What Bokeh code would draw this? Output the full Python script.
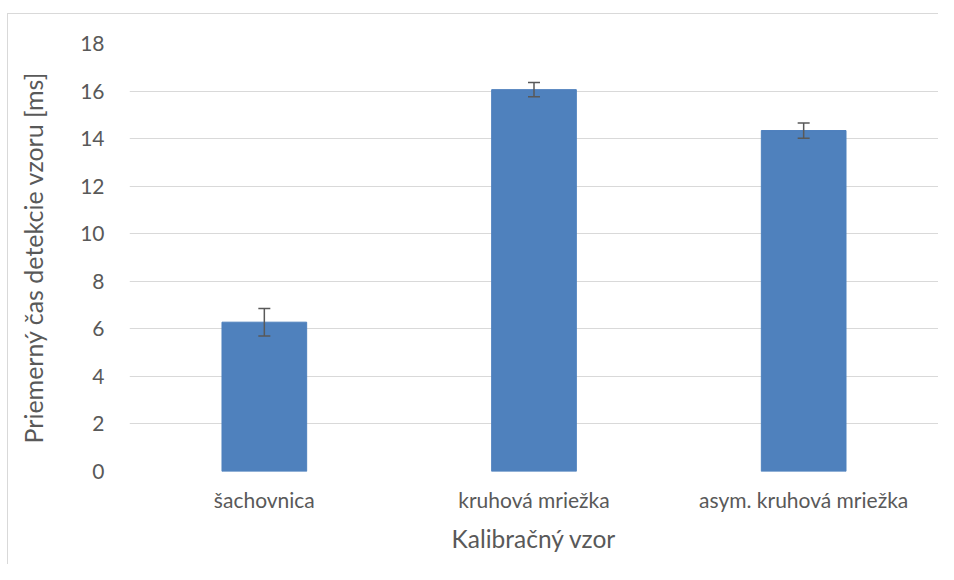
from bokeh.plotting import figure
from bokeh.models import ColumnDataSource, Whisker, TeeHead, FactorRange, Range1d, FixedTicker
from bokeh.embed import file_html
from bokeh.resources import INLINE

categories = ["šachovnica", "kruhová mriežka", "asym. kruhová mriežka"]
means = [6.28, 16.06, 14.34]
errors = [0.58, 0.30, 0.32]
y_ticks = [0, 2, 4, 6, 8, 10, 12, 14, 16, 18]

upper = [m + e for m, e in zip(means, errors)]
lower = [m - e for m, e in zip(means, errors)]
src = ColumnDataSource(dict(cat=categories, mean=means, upper=upper, lower=lower))

FONT = "Lato"
TXT = "#595959"

p = figure(x_range=FactorRange(*categories, range_padding=0), y_range=Range1d(0, 18),
           width=931, height=551, output_backend="svg", toolbar_location=None,
           min_border_left=121, min_border_right=1, min_border_top=29, min_border_bottom=94)
p.margin = (13, 0, 0, 7)
p.styles = {"border-left": "1px solid #d9d9d9", "border-top": "1px solid #d9d9d9"}

p.vbar(x="cat", top="mean", width=0.314, source=src, color="#4f81bd")

w = Whisker(base="cat", upper="upper", lower="lower", source=src,
            line_color="#595959", line_width=1.5, level="overlay",
            upper_head=TeeHead(size=12, line_color="#595959", line_width=1.5),
            lower_head=TeeHead(size=12, line_color="#595959", line_width=1.5))
p.add_layout(w)

p.outline_line_color = None
p.xgrid.grid_line_color = None
p.ygrid.grid_line_color = "#d9d9d9"
p.ygrid.grid_line_width = 1
p.yaxis.ticker = FixedTicker(ticks=y_ticks)

for ax in (p.xaxis, p.yaxis):
    ax.axis_line_color = None
    ax.major_tick_line_color = None
    ax.minor_tick_line_color = None
    ax.major_label_text_font = FONT
    ax.major_label_text_font_size = "21px"
    ax.major_label_text_color = TXT
    ax.axis_label_text_font = FONT
    ax.axis_label_text_color = TXT
    ax.axis_label_text_font_style = "normal"

p.xaxis.axis_label_text_font_size = "24.5px"
p.yaxis.axis_label_text_font_size = "25px"
p.yaxis.axis_label = "Priemerný čas detekcie vzoru [ms]"
p.xaxis.axis_label = "Kalibračný vzor"
p.yaxis.major_label_standoff = 19
p.xaxis.major_label_standoff = 9
p.yaxis.axis_label_standoff = 29
p.xaxis.axis_label_standoff = 9
p.xaxis.group_text_font_size = "0px"

open("out.html", "w").write(file_html(p, INLINE))
